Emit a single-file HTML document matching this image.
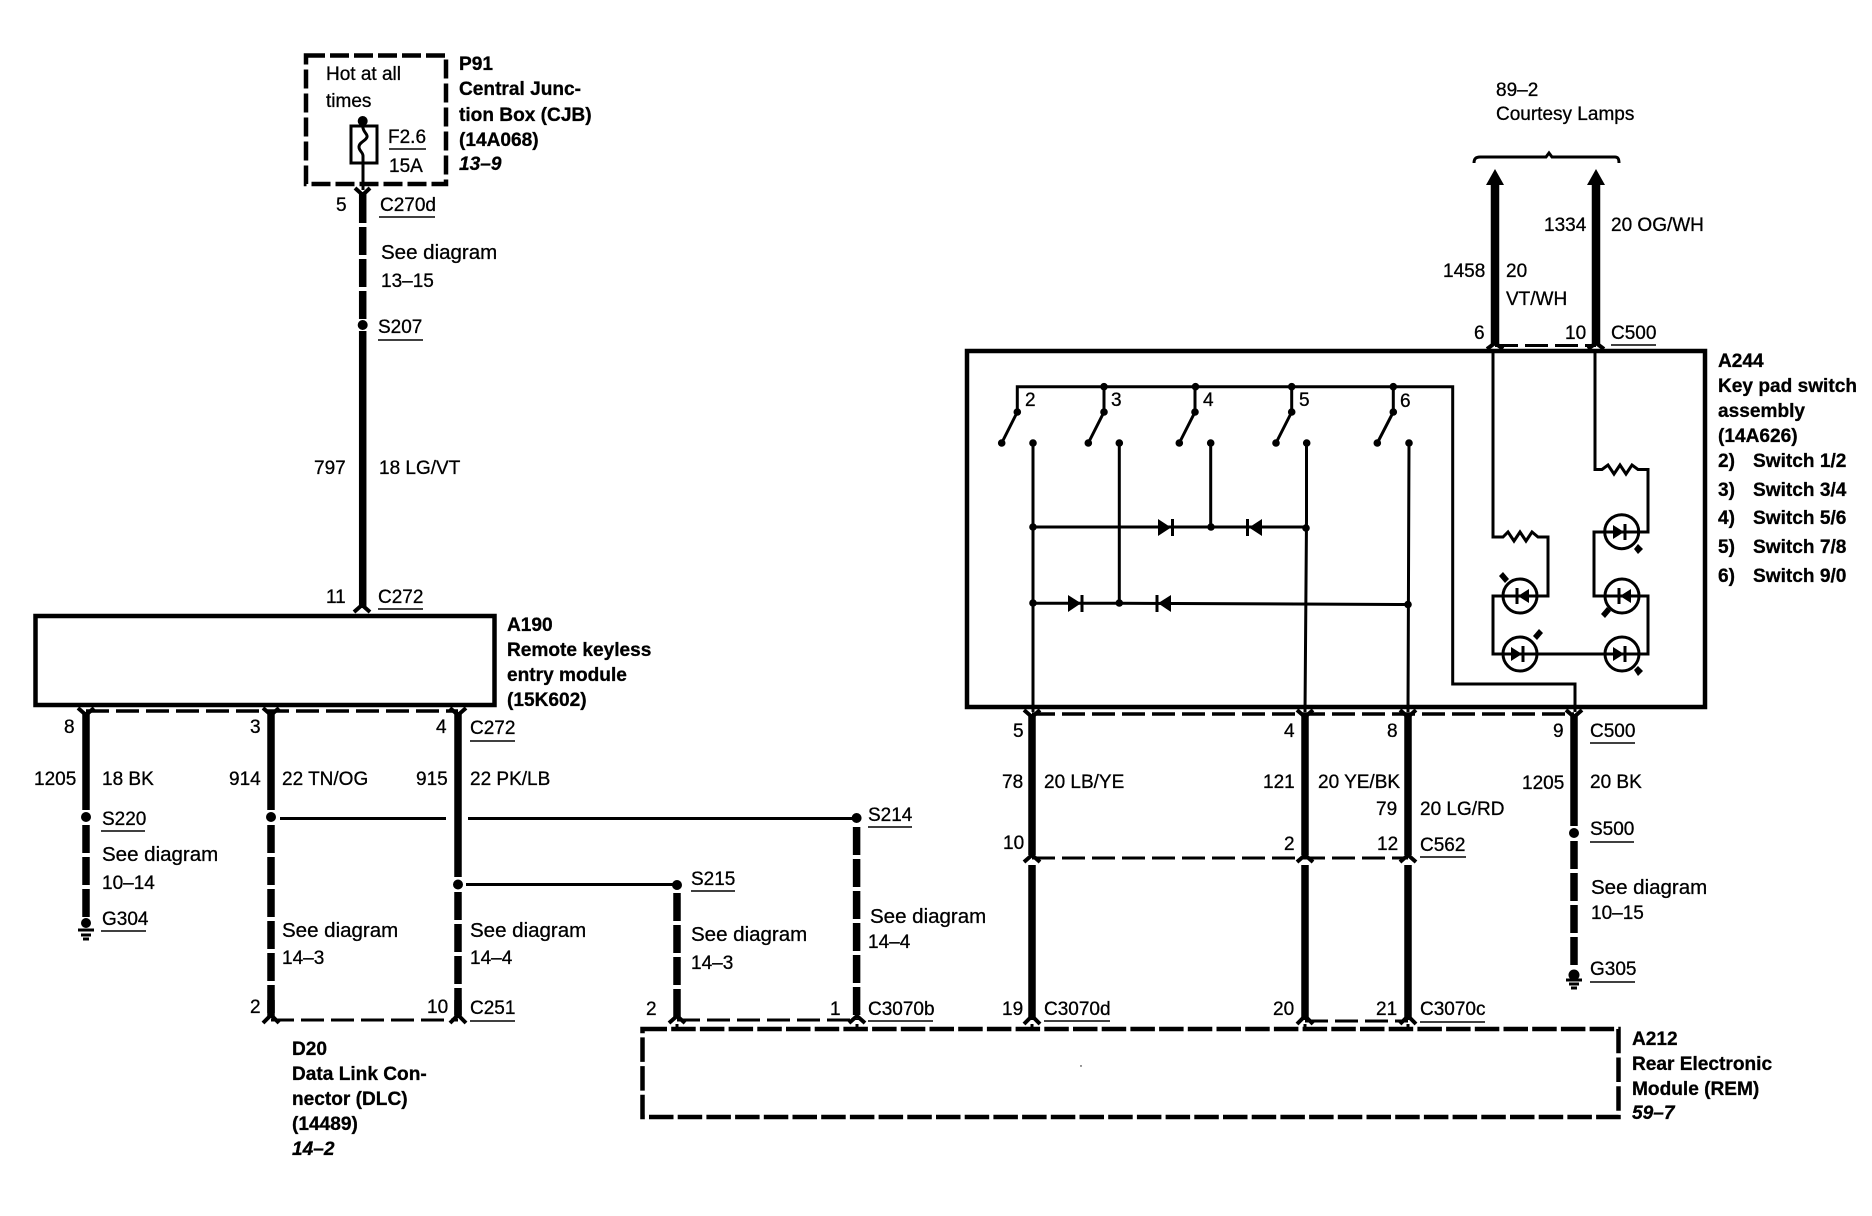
<!DOCTYPE html>
<html><head><meta charset="utf-8"><title>Wiring diagram</title>
<style>
html,body{margin:0;padding:0;background:#fff}
svg{display:block}
text{font-family:"Liberation Sans",sans-serif;font-size:19px;fill:#000;stroke:#000;stroke-width:.3}
.b{font-weight:bold;font-size:19.1px}
.i{font-weight:bold;font-style:italic;font-size:19.1px}
.s{font-size:20.5px}
.w{fill:none;stroke:#000;stroke-width:7.5}
.d{fill:none;stroke:#000;stroke-width:7.5;stroke-dasharray:28 4}
.t{fill:none;stroke:#000;stroke-width:3}
.u{fill:none;stroke:#000;stroke-width:1.5}
.r{fill:none;stroke:#000;stroke-width:3.5;stroke-dasharray:23 7}
.c{fill:none;stroke:#000;stroke-width:4}
.x{fill:none;stroke:#000;stroke-width:4.5}
</style></head><body>
<svg xmlns="http://www.w3.org/2000/svg" width="1872" height="1216" viewBox="0 0 1872 1216">
<rect width="1872" height="1216" fill="#fff"/>

<!-- P91 -->
<rect x="306" y="55.5" width="140" height="128.5" class="x" stroke-dasharray="19 5"/>
<circle cx="362.7" cy="121" r="5"/>
<rect x="351" y="126" width="26" height="37" class="t"/>
<path class="t" d="M362.7 121V126C362.7 132 368 134 367 137C366 141 359 142 359 147C359 151 363 152 363 156V190"/>
<path class="u" d="M389 149H426M379 217H435M378 340H423M378 609H423"/>
<text x="326" y="80">Hot at all</text><text x="326" y="107">times</text>
<text x="388" y="143">F2.6</text><text x="389" y="172">15A</text>
<text x="459" y="70" class="b">P91</text>
<text x="459" y="95" class="b">Central Junc-</text>
<text x="459" y="121" class="b">tion Box (CJB)</text>
<text x="459" y="146" class="b">(14A068)</text>
<text x="459" y="170" class="i">13–9</text>

<!-- main wire -->
<path class="c" d="M355 188L362.7 195L370 188"/>
<path class="w" d="M362.7 192V223M362.7 331V608"/>
<path class="d" d="M362.7 227V320"/>
<circle cx="362.7" cy="325" r="5"/>
<path class="c" d="M354 612L362 605L370 612"/>
<text x="336" y="211">5</text>
<text x="380" y="211">C270d</text>
<text x="381" y="259" class="s">See diagram</text><text x="381" y="287">13–15</text>
<text x="378" y="333">S207</text>
<text x="314" y="474">797</text><text x="379" y="474">18 LG/VT</text>
<text x="326" y="603">11</text><text x="378" y="603">C272</text>

<!-- A190 -->
<rect x="35.5" y="616" width="459" height="89" class="x"/>
<text x="507" y="631" class="b">A190</text>
<text x="507" y="656" class="b">Remote keyless</text>
<text x="507" y="681" class="b">entry module</text>
<text x="507" y="706" class="b">(15K602)</text>

<path class="r" d="M86 711H458"/>
<path class="c" d="M78 708L86 715L94 708M263 708L271 715L279 708M450 708L458 715L466 708"/>
<path class="w" d="M86 712V810M271 712V810M458 712V877"/>
<circle cx="86" cy="817" r="5"/><circle cx="271" cy="817" r="5"/><circle cx="458" cy="884.5" r="5"/>
<path class="d" d="M86 825V917M271 825V1015M458 892V1015"/>
<path class="w" d="M271 1000V1018M458 1000V1018"/>
<circle cx="86" cy="923" r="5"/>
<path class="t" d="M78 930H94M81 935H91M83 939H89"/>
<path class="c" d="M263 1023L271 1015L279 1023M450 1023L458 1015L466 1023"/>
<path class="r" d="M271 1020H458" style="stroke-width:3"/>
<path class="t" d="M280 818.5H446M468 818.5H856M466 884.5H677"/>

<text x="64" y="733">8</text><text x="250" y="733">3</text><text x="436" y="733">4</text>
<text x="470" y="734">C272</text>
<text x="34" y="785">1205</text><text x="102" y="785">18 BK</text>
<text x="229" y="785">914</text><text x="282" y="785">22 TN/OG</text>
<text x="416" y="785">915</text><text x="470" y="785">22 PK/LB</text>
<text x="102" y="825">S220</text>
<text x="102" y="861" class="s">See diagram</text><text x="102" y="889">10–14</text>
<text x="102" y="925">G304</text>
<text x="282" y="937" class="s">See diagram</text><text x="282" y="964">14–3</text>
<text x="470" y="937" class="s">See diagram</text><text x="470" y="964">14–4</text>
<text x="250" y="1013">2</text><text x="427" y="1013">10</text><text x="470" y="1014">C251</text>
<path class="u" d="M470 741H515M101 831H145M101 931H146M470 1021H515"/>

<text x="292" y="1055" class="b">D20</text>
<text x="292" y="1080" class="b">Data Link Con-</text>
<text x="292" y="1105" class="b">nector (DLC)</text>
<text x="292" y="1130" class="b">(14489)</text>
<text x="292" y="1155" class="i">14–2</text>

<!-- S215 / S214 -->
<circle cx="677" cy="885" r="5"/><circle cx="856.6" cy="818" r="5"/>
<path class="d" d="M677 893V1020"/>
<path class="d" d="M856.6 827V1020"/>
<path class="c" d="M669 1023L677 1016L685 1023M849 1023L857 1016L865 1023"/>
<path class="r" d="M677 1020H857" style="stroke-width:3"/>
<text x="691" y="885">S215</text><text x="868" y="821">S214</text>
<path class="u" d="M691 891H735M868 827H912M868 1021H933M1044 1021H1110M1420 1022H1485M1420 857H1466"/>
<text x="691" y="941" class="s">See diagram</text><text x="691" y="969">14–3</text>
<text x="870" y="923" class="s">See diagram</text><text x="868" y="948">14–4</text>
<text x="646" y="1015">2</text><text x="830" y="1015">1</text><text x="868" y="1015">C3070b</text>

<!-- A212 -->
<rect x="642.5" y="1029" width="976" height="88" class="x" stroke-dasharray="24.5 4.2"/>
<text x="1632" y="1045" class="b">A212</text>
<text x="1632" y="1070" class="b">Rear Electronic</text>
<text x="1632" y="1095" class="b">Module (REM)</text>
<text x="1632" y="1119" class="i">59–7</text>
<circle cx="1081" cy="1066" r="0.7"/>

<!-- A244 -->
<rect x="967" y="351" width="738" height="356" class="x"/>
<text x="1718" y="367" class="b">A244</text>
<text x="1718" y="392" class="b">Key pad switch</text>
<text x="1718" y="417" class="b">assembly</text>
<text x="1718" y="442" class="b">(14A626)</text>
<text x="1718" y="467" class="b">2)</text><text x="1753" y="467" class="b">Switch 1/2</text>
<text x="1718" y="496" class="b">3)</text><text x="1753" y="496" class="b">Switch 3/4</text>
<text x="1718" y="524" class="b">4)</text><text x="1753" y="524" class="b">Switch 5/6</text>
<text x="1718" y="553" class="b">5)</text><text x="1753" y="553" class="b">Switch 7/8</text>
<text x="1718" y="582" class="b">6)</text><text x="1753" y="582" class="b">Switch 9/0</text>

<!-- switches -->
<path class="t" d="M1017.3 412V386.7H1452.7V684H1575V712"/>
<path class="t" d="M1104 387V412M1195 387V412M1291.7 387V412M1393.3 387V412"/>
<path class="t" d="M1017.3 412L1001.7 443M1104 412L1088.3 443M1195 412L1179.3 443M1291.7 412L1276 443M1393.3 412L1377.3 443"/>
<g>
<circle cx="1104" cy="386.7" r="3.8"/><circle cx="1195.5" cy="386.7" r="3.8"/><circle cx="1291.7" cy="386.7" r="3.8"/><circle cx="1393.3" cy="386.7" r="3.8"/>
<circle cx="1017.3" cy="412" r="3.8"/><circle cx="1104" cy="412" r="3.8"/><circle cx="1195" cy="412" r="3.8"/><circle cx="1291.7" cy="412" r="3.8"/><circle cx="1393.3" cy="412" r="3.8"/>
<circle cx="1001.7" cy="443" r="3.8"/><circle cx="1088.3" cy="443" r="3.8"/><circle cx="1179.3" cy="443" r="3.8"/><circle cx="1276" cy="443" r="3.8"/><circle cx="1377.3" cy="443" r="3.8"/>
<circle cx="1033" cy="443" r="3.8"/><circle cx="1119.3" cy="443" r="3.8"/><circle cx="1210.7" cy="443" r="3.8"/><circle cx="1306.7" cy="443" r="3.8"/><circle cx="1409" cy="443" r="3.8"/>
<circle cx="1033" cy="527" r="3.8"/><circle cx="1211" cy="527" r="3.8"/><circle cx="1306" cy="528" r="3.8"/>
<circle cx="1033" cy="603" r="3.8"/><circle cx="1119.3" cy="603" r="3.8"/><circle cx="1408" cy="604.5" r="3.8"/>
</g>
<text x="1025" y="406">2</text><text x="1111" y="406">3</text><text x="1203" y="406">4</text><text x="1299" y="406">5</text><text x="1400" y="407">6</text>
<path class="t" d="M1033 443V712M1119.3 443V603M1210.7 443V527M1306.5 443V520L1305 712M1409 443L1408 712"/>
<path class="t" d="M1033 527H1306M1033 603.3H1119.3M1119.3 603.3L1409 604.5"/>
<path d="M1158 519L1171 527.5L1158 536Z"/><path class="t" d="M1172.5 519V536"/>
<path d="M1262 519L1249 527.5L1262 536Z"/><path class="t" d="M1247.5 519V536"/>
<path d="M1068 595L1081 603.3L1068 612Z"/><path class="t" d="M1082 595V612"/>
<path d="M1171 595L1158 603.3L1171 612Z"/><path class="t" d="M1157 595V612"/>

<!-- below A244 -->
<path class="r" d="M1032 714H1574"/>
<path class="c" d="M1024 710L1032 717L1040 710M1297 710L1305 717L1313 710M1400 710L1408 717L1416 710M1566 710L1574 717L1582 710"/>
<path class="w" d="M1032 714V855M1032 865V1020M1305 714V855M1305 865V1020M1408 714V855M1408 865V1020M1574 714V826"/>
<path class="c" d="M1024 862L1032 855L1040 862M1297 862L1305 855L1313 862M1400 862L1408 855L1416 862"/>
<path class="c" d="M1024 1024L1032 1016L1040 1024M1297 1024L1305 1016L1313 1024M1400 1024L1408 1016L1416 1024"/>
<path class="r" d="M1032 858H1408" style="stroke-width:3"/>
<path class="r" d="M1305 1021H1408" style="stroke-width:3"/>
<path class="t" d="M1032 1024V1030M1305 1024V1030M1408 1024V1030M857 1024V1030M677 1024V1030"/>
<circle cx="1574" cy="833" r="5"/>
<path class="d" d="M1574 841V968"/>
<circle cx="1574" cy="975" r="5.5"/>
<path class="t" d="M1566 980H1582M1569 984H1579M1571 988H1577"/>
<path class="u" d="M1590 743H1635M1590 842H1634M1590 982H1635"/>

<text x="1013" y="737">5</text><text x="1284" y="737">4</text><text x="1387" y="737">8</text><text x="1553" y="737">9</text><text x="1590" y="737">C500</text>
<text x="1002" y="788">78</text><text x="1044" y="788">20 LB/YE</text>
<text x="1263" y="788">121</text><text x="1318" y="788">20 YE/BK</text>
<text x="1376" y="815">79</text><text x="1420" y="815">20 LG/RD</text>
<text x="1522" y="789">1205</text><text x="1590" y="788">20 BK</text>
<text x="1590" y="835">S500</text>
<text x="1003" y="849">10</text><text x="1284" y="850">2</text><text x="1377" y="850">12</text><text x="1420" y="851">C562</text>
<text x="1591" y="894" class="s">See diagram</text><text x="1591" y="919">10–15</text>
<text x="1590" y="975">G305</text>
<text x="1002" y="1015">19</text><text x="1044" y="1015">C3070d</text>
<text x="1273" y="1015">20</text><text x="1376" y="1015">21</text><text x="1420" y="1015">C3070c</text>

<!-- Top right -->
<text x="1496" y="96">89–2</text><text x="1496" y="120">Courtesy Lamps</text>
<path class="t" d="M1474 163C1474 158 1477 157 1480 157H1546L1549 153L1552 157H1615C1618 157 1619 159 1619 163"/>
<path d="M1495 169L1504 185H1486Z"/><path d="M1596 169L1605 185H1587Z"/>
<path class="w" d="M1495 182V345M1596 182V345" style="stroke-width:8.5"/>
<path class="c" d="M1487 349L1495 343L1503 349M1588 349L1596 343L1604 349"/>
<path class="r" d="M1495 345.5H1596" style="stroke-width:3"/>
<text x="1544" y="231">1334</text><text x="1611" y="231">20 OG/WH</text>
<text x="1443" y="277">1458</text><text x="1506" y="277">20</text><text x="1506" y="305">VT/WH</text>
<text x="1474" y="339">6</text><text x="1565" y="339">10</text><text x="1611" y="339">C500</text>
<path class="u" d="M1611 345H1656"/>

<!-- lamp circuit -->
<path class="t" d="M1493 350V537H1503L1508 532L1514 541L1520 532L1526 541L1532 532L1538 537H1548V596H1493V654H1648V596H1594V532H1648V469.5H1638L1632 465L1626 474L1620 465L1614 474L1608 465L1602 469.5H1595V350"/>
<g fill="#fff" stroke="#000" stroke-width="3">
<circle cx="1621.7" cy="531.7" r="17"/><circle cx="1622" cy="596" r="17"/><circle cx="1520" cy="596" r="17"/><circle cx="1520" cy="654" r="17"/><circle cx="1622" cy="654" r="17"/>
</g>
<path class="t" d="M1604 532H1640M1605 596H1639M1503 596H1537M1503 654H1537M1605 654H1639"/>
<path d="M1613 525L1624 532L1613 539Z"/><path class="t" d="M1625 524V540"/>
<path d="M1631 589L1620 596L1631 603Z"/><path class="t" d="M1619 588V604"/>
<path d="M1529 589L1518 596L1529 603Z"/><path class="t" d="M1517 588V604"/>
<path d="M1511 647L1522 654L1511 661Z"/><path class="t" d="M1523 646V662"/>
<path d="M1613 647L1624 654L1613 661Z"/><path class="t" d="M1625 646V662"/>
<path d="M1634 549L1638 544L1643 549L1638 554Z"/>
<path d="M1601 614L1607 607L1611 611L1605 618Z"/>
<path d="M1499 576L1503 572L1509 579L1505 583Z"/>
<path d="M1533 636L1539 629L1543 633L1537 640Z"/>
<path d="M1634 670L1638 666L1643 671L1638 676Z"/>
</svg>
</body></html>
